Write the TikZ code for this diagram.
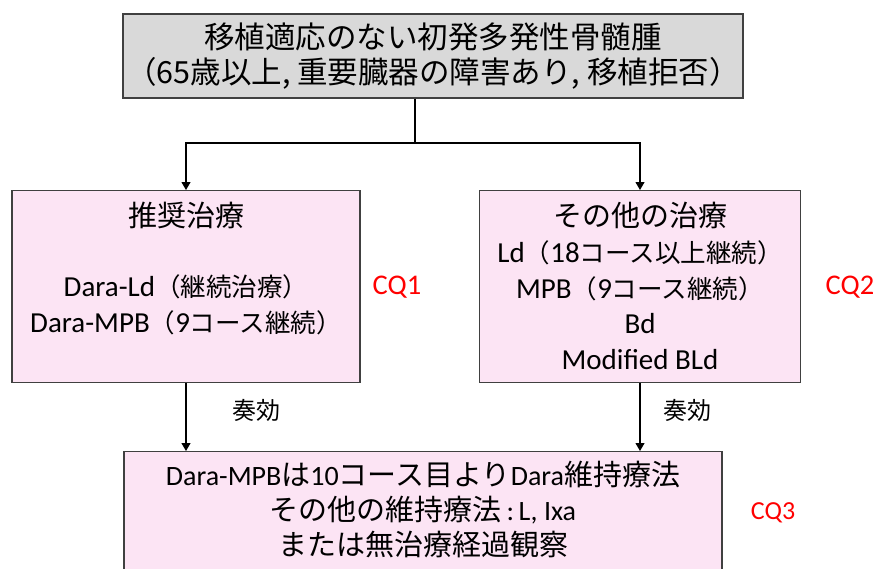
\documentclass[tikz,border=0pt]{standalone}
\usepackage{fontspec}
\setmainfont{Carlito}
\newfontfamily\jp{Noto Sans CJK JP}
\newfontfamily\jps[Scale=0.88]{Noto Sans CJK JP}
\usetikzlibrary{arrows.meta}
\definecolor{boxgray}{HTML}{D9D9D9}
\definecolor{boxpink}{HTML}{FCE4F4}
\definecolor{edge}{HTML}{404040}
\definecolor{cqred}{HTML}{FF0000}
\tikzset{
  box/.style={draw=edge, line width=1.2pt, align=center, inner sep=0pt},
  graybox/.style={box, fill=boxgray},
  pinkbox/.style={box, fill=boxpink},
  conn/.style={line width=1.1pt, black},
  arr/.style={conn, -{Triangle[length=8pt,width=9pt]}},
  cq/.style={text=cqred, font=\fontsize{28.5}{34}\selectfont},
  lbl/.style={font=\jp\fontsize{24}{28}\selectfont},
  ttl/.style={font=\jp\fontsize{29}{34}\selectfont},
}
\begin{document}
\begin{tikzpicture}[x=1pt,y=-1pt]
\useasboundingbox (0,0) rectangle (875,568);
\clip (0,0) rectangle (875,568);
\fill[white] (0,0) rectangle (875,568);

\node[graybox, minimum width=620pt, minimum height=84pt,
  font=\jp\fontsize{30.5}{35}\selectfont] (top) at (433,56)
  {移植適応のない初発多発性骨髄腫\\（65歳以上, 重要臓器の障害あり, 移植拒否）};

\node[pinkbox, minimum width=348pt, minimum height=192pt, anchor=north] (left) at (186,190) {};
\node[ttl] (lt) at (186,215) {推奨治療};
\node[font=\fontsize{29}{36}\selectfont, align=center] (lb) at (186,305)
  {Dara-Ld{\jps（継続治療）}\\Dara-MPB{\jps（}9{\jps コース継続）}};

\node[pinkbox, minimum width=321pt, minimum height=192pt, anchor=north] (right) at (640,190) {};
\node[ttl] (rt) at (640,215) {その他の治療};
\node[font=\fontsize{29}{35.5}\selectfont, align=center] (rb) at (640,305)
  {Ld{\jps（}18{\jps コース以上継続）}\\MPB{\jps（}9{\jps コース継続）}\\Bd\\Modified BLd};

\node[pinkbox, minimum width=598pt, minimum height=150pt, anchor=north] (bot) at (423,451) {};
\node[font=\fontsize{28}{35}\selectfont, align=center] (bt) at (423,509)
  {Dara-MPB{\jp\fontsize{29}{35}\selectfont は}10{\jp\fontsize{29}{35}\selectfont コース目より}Dara{\jp\fontsize{29}{35}\selectfont 維持療法}\\
   {\jp\fontsize{29}{35}\selectfont その他の維持療法}\,:\,L, Ixa\\
   {\jp\fontsize{29}{35}\selectfont または無治療経過観察}};

\node[cq] (cq1) at (397,287) {CQ1};
\node[cq] (cq2) at (850,287) {CQ2};
\node[cq, font=\fontsize{26}{30}\selectfont] (cq3) at (773,513) {CQ3};

\coordinate (j) at (415,143);
\draw[conn] (top.south -| j) -- (j);
\draw[arr] (j) -| (left.north);
\draw[arr] (j) -| (right.north);

\draw[arr] (left.south) -- (left.south |- bot.north);
\draw[arr] (right.south) -- (right.south |- bot.north);
\node[lbl] (k1) at (256,410) {奏効};
\node[lbl] (k2) at (687,410) {奏効};
\end{tikzpicture}
\end{document}
